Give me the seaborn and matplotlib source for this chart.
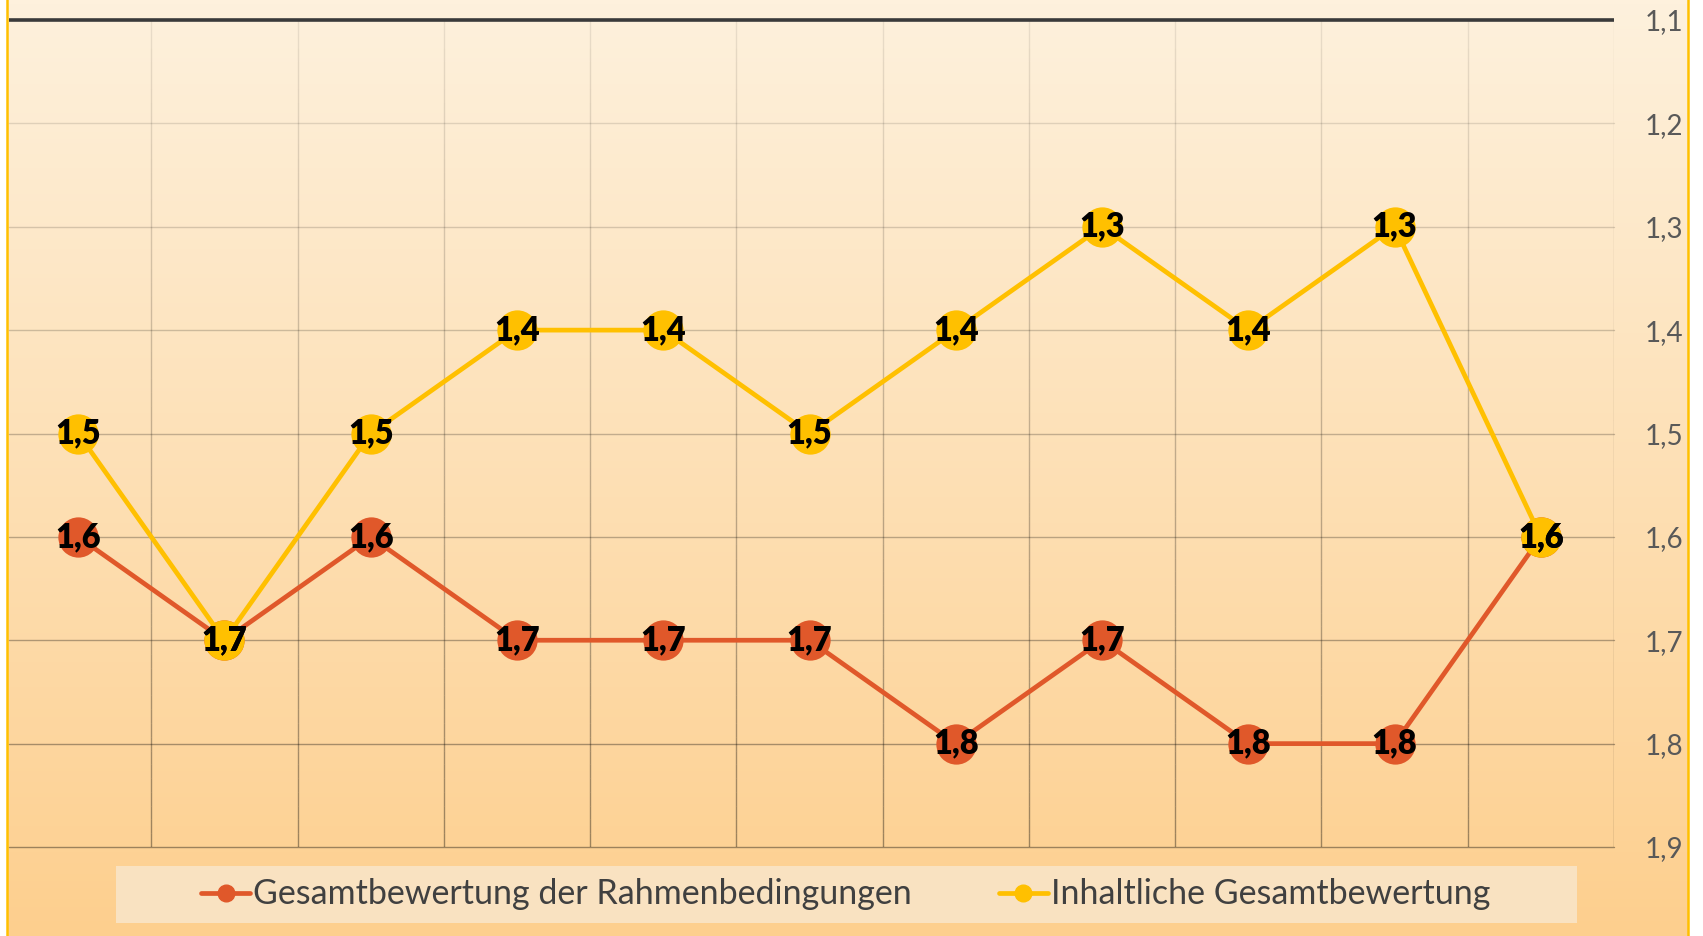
import numpy as np
import pandas as pd
import matplotlib
matplotlib.use("Agg")
import matplotlib.pyplot as plt
from matplotlib.lines import Line2D
from matplotlib.patches import Rectangle
from matplotlib.colors import LinearSegmentedColormap
import seaborn as sns

# ---- data ----
categories = [f"K{i+1}" for i in range(11)]
rahmen = [1.6, 1.7, 1.6, 1.7, 1.7, 1.7, 1.8, 1.7, 1.8, 1.8, 1.6]
inhalt = [1.5, 1.7, 1.5, 1.4, 1.4, 1.5, 1.4, 1.3, 1.4, 1.3, 1.6]
series_names = ["Gesamtbewertung der Rahmenbedingungen", "Inhaltliche Gesamtbewertung"]
series_colors = ["#E0582A", "#FFC000"]
y_ticks = [1.1, 1.2, 1.3, 1.4, 1.5, 1.6, 1.7, 1.8, 1.9]

sns.set_theme(style="white")
plt.rcParams['font.family'] = ['Lato', 'DejaVu Sans']

W, H = 1703, 936
fig = plt.figure(figsize=(W / 100, H / 100), dpi=100)
fig.patch.set_facecolor("white")

# background gradient area with yellow side borders
bg = fig.add_axes([7 / W, 0, (1688 - 7) / W, 1])
cmap = LinearSegmentedColormap.from_list("bg", ["#FEF1DD", "#FDCF8E"])
grad = np.linspace(0, 1, 256).reshape(-1, 1)
bg.imshow(grad, cmap=cmap, aspect="auto", extent=[0, 1, 1, 0])
bg.set_xlim(0, 1); bg.set_ylim(1, 0)
bg.set_xticks([]); bg.set_yticks([])
for s in ["top", "bottom"]:
    bg.spines[s].set_visible(False)
for s in ["left", "right"]:
    bg.spines[s].set_color("#FFC000")
    bg.spines[s].set_linewidth(1.8)

# legend background box
fig.patches.append(Rectangle((116 / W, 1 - 923 / H), (1577 - 116) / W, (923 - 866) / H,
                             transform=fig.transFigure, facecolor="#F9E2C1",
                             edgecolor="none", zorder=1))

# main axes
L, R, T, B = 5, 1614, 20, 847
ax = fig.add_axes([L / W, 1 - B / H, (R - L) / W, (B - T) / H])
ax.set_facecolor("none")

df = pd.DataFrame({
    "pos": list(range(len(categories))) * 2,
    "val": rahmen + inhalt,
    "serie": [series_names[0]] * len(rahmen) + [series_names[1]] * len(inhalt),
})

ax.set_xlim(-0.5, len(categories) - 0.5)
ax.set_ylim(1.9, 1.1)

# gridlines with vertical fade (lighter at top, darker at bottom)
def alpha_at(v):
    return 0.08 + 0.30 * (v - 1.1) / 0.8

x0 = 3.5 / (R - L)
for v in y_ticks[1:]:
    ax.axhline(v, xmin=x0, color=(0, 0, 0, alpha_at(v)), lw=1.0, zorder=1, clip_on=False)
nseg = 60
ys = np.linspace(1.1, 1.9, nseg + 1)
for xb in np.arange(0.5, len(categories), 1.0):
    for k in range(nseg):
        ym = 0.5 * (ys[k] + ys[k + 1])
        ax.plot([xb, xb], [ys[k], ys[k + 1]], color=(0, 0, 0, alpha_at(ym)),
                lw=1.0, solid_capstyle="butt", zorder=1)
ax.axhline(1.1, xmin=x0, color="#3A3A3A", lw=2.6, zorder=2, clip_on=False,
           solid_capstyle="butt")

for name, col, z in zip(series_names, series_colors, [3, 4]):
    sub = df[df["serie"] == name]
    sns.lineplot(data=sub, x="pos", y="val", color=col, lw=3.4, marker="o",
                 markersize=29, markeredgewidth=0, sort=False, ax=ax, zorder=z,
                 legend=False)

for vals in [rahmen, inhalt]:
    for i, v in enumerate(vals):
        ax.text(i, v, f"{v:.1f}".replace(".", ","), ha="center", va="center",
                fontsize=23.5, fontweight="heavy", color="black", zorder=6,
                family=["Lato", "DejaVu Sans"])

ax.set_xlabel(""); ax.set_ylabel("")
ax.set_xticks([])
ax.yaxis.tick_right()
ax.set_yticks(y_ticks)
ax.set_yticklabels([f"{v:.1f}".replace(".", ",") for v in y_ticks])
ax.tick_params(axis="y", length=0, pad=22, labelsize=20, labelcolor="#595959")
for lbl in ax.get_yticklabels():
    lbl.set_horizontalalignment("left")
for s in ax.spines.values():
    s.set_visible(False)

handles = [Line2D([], [], color=c, lw=3.4, marker="o", markersize=12) for c in series_colors]
leg = fig.legend(handles, series_names, loc="center left",
                 bbox_to_anchor=(201 / W, 1 - 894.5 / H), ncol=2, frameon=False,
                 fontsize=24.5, handlelength=1.45, handletextpad=0.08,
                 columnspacing=2.55, borderpad=0, borderaxespad=0)
for t in leg.get_texts():
    t.set_color("#404040")
leg.set_zorder(5)

fig.savefig("out.png", dpi=100)
